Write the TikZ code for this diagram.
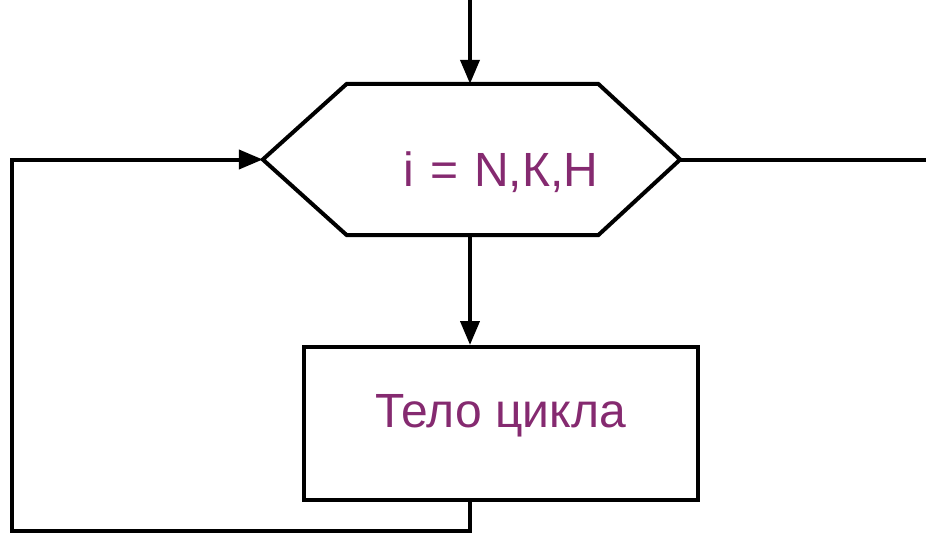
\documentclass[tikz,border=0pt]{standalone}
\usepackage{fontspec}
\setmainfont{Liberation Sans}
\usetikzlibrary{arrows.meta,positioning}

\definecolor{loopText}{RGB}{133,42,112}

\tikzset{
  line/.style={line width=4pt,line join=miter},
  arr/.style={line,-{Triangle[length=24pt,width=19pt]}},
  lbl/.style={text=loopText,font=\fontsize{48}{56}\selectfont,inner sep=0pt,anchor=base},
}

\begin{document}
\begin{tikzpicture}[x=1pt,y=-1pt]
  \useasboundingbox (0,0) rectangle (926,536);
  % loop header (hexagon) and loop body
  \node (cond) [minimum width=251pt,minimum height=151pt,inner sep=0pt] at (472.5,159.5) {};
  \coordinate (cond-l) at ([xshift=-84pt]cond.west);
  \coordinate (cond-r) at ([xshift=82pt]cond.east);
  \draw[line] (cond.north west) -- (cond.north east) -- (cond-r)
    -- (cond.south east) -- (cond.south west) -- (cond-l) -- cycle;
  \node[lbl] (condtxt) at (501,186) {i\,\,=\,\,N,К,Н};
  \node (body) [draw,line,minimum width=394pt,minimum height=153pt] at (501,423.5) {};
  \node[lbl] (bodytxt) at (500.5,427) {Тело цикла};

  \coordinate (top) at (470,0);
  \coordinate (back) at (12,531);
  \coordinate (exit) at (926,159.5);

  \draw[arr] (top) -- (top |- cond.north);
  \draw[arr] (top |- cond.south) -- (top |- body.north);
  \draw[arr] (top |- body.south) |- (back) |- (cond-l);
  \draw[line] (cond-r) -- (exit);
\end{tikzpicture}
\end{document}
